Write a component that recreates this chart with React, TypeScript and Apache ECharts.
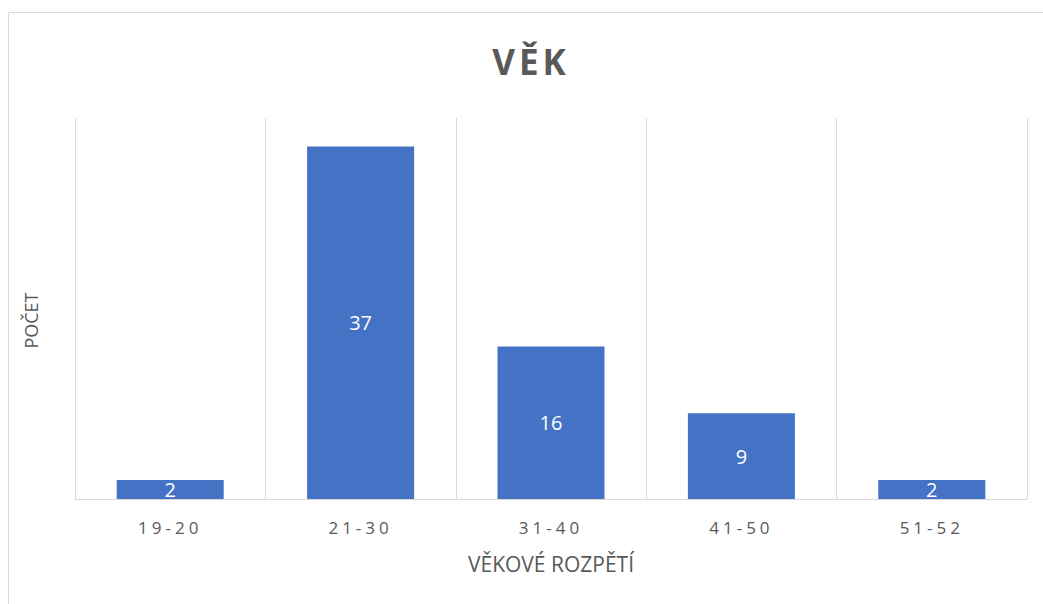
import React, { useEffect, useRef } from "react";
import * as echarts from "echarts";

const categories = ["19-20", "21-30", "31-40", "41-50", "51-52"];
const counts = [2, 37, 16, 9, 2];
const titleText = "VĚK";
const xName = "VĚKOVÉ ROZPĚTÍ";
const yName = "POČET";

function spaceTexts(root: HTMLElement, texts: string[], spacing: number) {
  const nodes = root.querySelectorAll("text");
  nodes.forEach((n) => {
    const t = (n.textContent || "").trim();
    if (texts.includes(t)) {
      (n as SVGTextElement).style.letterSpacing = spacing + "px";
    }
  });
}

export default function App() {
  const ref = useRef<HTMLDivElement>(null);
  useEffect(() => {
    if (!ref.current) return;
    const chart = echarts.init(ref.current, undefined, { renderer: "svg" });
    const font = "'Open Sans', 'DejaVu Sans', sans-serif";
    chart.setOption({
      animation: false,
      textStyle: { fontFamily: font },
      title: {
        text: titleText,
        left: 526,
        top: 39,
        textAlign: "center",
        textStyle: { color: "#595959", fontSize: 35, fontWeight: "bold", fontFamily: font },
      },
      graphic: [
        {
          type: "rect",
          silent: true,
          shape: { x: 8.5, y: 12.5, width: 1200, height: 800 },
          style: { fill: "none", stroke: "#d9d9d9", lineWidth: 1 },
        },
      ],
      grid: { left: 75, right: 16, top: 118, bottom: 105, containLabel: false },
      xAxis: {
        type: "category",
        data: categories,
        axisLine: { show: true, lineStyle: { color: "#d9d9d9", width: 1 } },
        axisTick: { show: false },
        splitLine: { show: true, lineStyle: { color: "#d9d9d9", width: 1 } },
        axisLabel: { color: "#595959", fontSize: 17, margin: 20, fontFamily: font },
        name: xName,
        nameLocation: "middle",
        nameGap: 54,
        nameTextStyle: { color: "#595959", fontSize: 21, fontFamily: font },
      },
      yAxis: {
        type: "value",
        min: 0,
        max: 40,
        axisLabel: { show: false },
        axisLine: { show: false },
        axisTick: { show: false },
        splitLine: { show: false },
        name: yName,
        nameLocation: "middle",
        nameRotate: 90,
        nameGap: 35,
        nameTextStyle: { color: "#595959", fontSize: 18, fontFamily: font, padding: [0, 24, 0, 0] },
      },
      series: [
        {
          type: "bar",
          data: counts,
          barWidth: 107,
          itemStyle: { color: "#4472C4" },
          label: {
            show: true,
            position: "inside",
            color: "#ffffff",
            fontSize: 20,
            fontFamily: font,
          },
        },
      ],
    });
    spaceTexts(ref.current, categories, 4);
    spaceTexts(ref.current, [titleText], 4);
    return () => chart.dispose();
  }, []);
  return (
    <div
      ref={ref}
      style={{ position: "absolute", left: 0, top: 0, width: 1043, height: 604 }}
    />
  );
}
